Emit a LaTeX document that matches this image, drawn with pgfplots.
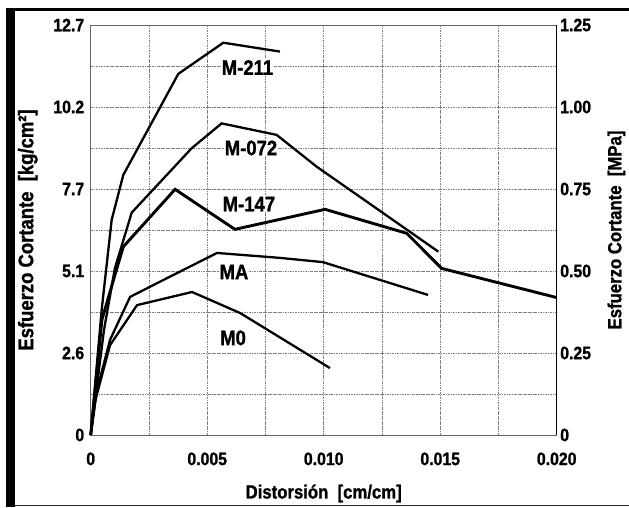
\documentclass[border=0pt]{standalone}
\usepackage{pgfplots}
\pgfplotsset{compat=1.18}
\usepackage{fontspec}
\setmainfont{Liberation Sans}[FakeStretch=0.88, BoldFeatures={FakeBold=1.2}]
\begin{document}
\begin{tikzpicture}
\path[use as bounding box] (0,0) rectangle (629pt,507pt);
\fill[black] (6pt,0) rectangle (15pt,498pt);
\draw[line width=2.5pt] (6pt,497.5pt) -- (629pt,497.5pt);
\draw[line width=1pt,black!85] (15pt,1.5pt) -- (629pt,1.5pt);
\begin{axis}[
  at={(90.7pt,72pt)}, anchor=south west, scale only axis,
  width=466pt, height=410pt,
  xmin=0, xmax=0.020, ymin=0, ymax=1.25,
  scaled x ticks=false, scaled y ticks=false,
  xtick={0,0.005,0.010,0.015,0.020},
  xticklabels={0,0.005,0.010,0.015,0.020},
  minor xtick={0.0025,0.0075,0.0125,0.0175},
  ytick={0,0.25,0.5,0.75,1,1.25},
  yticklabels={0,2.6,5.1,7.7,10.2,12.7},
  minor ytick={0.125,0.375,0.625,0.875,1.125},
  major tick length=0pt, minor tick length=0pt,
  grid=both,
  major grid style={black!50, line width=0.5pt, dash pattern=on 2.5pt off 1pt on 0.6pt off 1pt},
  minor grid style={black!50, line width=0.5pt, dash pattern=on 2.5pt off 1pt on 0.6pt off 1pt},
  axis line style={black!60, line width=0.7pt},
  /pgf/number format/assume math mode=true,
  tick label style={font=\bfseries\fontsize{18}{18}\selectfont},
  xticklabel style={yshift=-14pt},
  yticklabel style={xshift=-3pt},
  xlabel={Distorsión\ \ [cm/cm]},
  ylabel={Esfuerzo Cortante\ \ [kg/cm²]},
  label style={font=\bfseries\fontsize{19}{19}\selectfont},
  xlabel style={at={(axis description cs:0.5,0)}, anchor=north, yshift=-46pt},
  ylabel style={at={(axis description cs:-0.135,0.5)}, anchor=center, rotate=0, font=\bfseries\fontsize{21}{21}\selectfont},
  clip=false,
]
% M-211
\addplot[black, line width=2.3pt] coordinates {
(0,0) (0.00047,0.381) (0.0009,0.656) (0.0014,0.793) (0.00376,1.101) (0.00569,1.196) (0.00812,1.169)};
% M-072
\addplot[black, line width=2.3pt] coordinates {
(0,0) (0.00057,0.32) (0.00104,0.509) (0.00176,0.678) (0.00433,0.874) (0.00562,0.950) (0.00798,0.915) (0.0097,0.818) (0.01492,0.559)};
% M-147
\addplot[black, line width=2.9pt] coordinates {
(0,0) (0.00048,0.351) (0.00104,0.488) (0.0014,0.574) (0.00362,0.749) (0.00619,0.627) (0.01006,0.688) (0.01356,0.615) (0.01506,0.508) (0.020,0.419)};
% MA
\addplot[black, line width=2.3pt] coordinates {
(0,0) (0.00027,0.137) (0.00083,0.29) (0.00169,0.421) (0.00285,0.463) (0.00542,0.555) (0.00812,0.540) (0.00997,0.527) (0.01448,0.427)};
% M0
\addplot[black, line width=2.3pt] coordinates {
(0,0) (0.00018,0.101) (0.00083,0.274) (0.00199,0.396) (0.00435,0.436) (0.00641,0.372) (0.01027,0.204)};
\node[font=\bfseries\fontsize{21}{21}\selectfont, fill=white, inner sep=1pt] at (axis cs:0.00673,1.1205) {M-211};
\node[font=\bfseries\fontsize{21}{21}\selectfont, fill=white, inner sep=1pt] at (axis cs:0.00688,0.875) {M-072};
\node[font=\bfseries\fontsize{21}{21}\selectfont, fill=white, inner sep=1pt] at (axis cs:0.00679,0.704) {M-147};
\node[font=\bfseries\fontsize{21}{21}\selectfont, fill=white, inner sep=1pt] at (axis cs:0.00615,0.497) {MA};
\node[font=\bfseries\fontsize{21}{21}\selectfont, fill=white, inner sep=1pt] at (axis cs:0.00611,0.296) {M0};
\end{axis}
\begin{axis}[
  at={(90.7pt,72pt)}, anchor=south west, scale only axis,
  width=466pt, height=410pt,
  xmin=0, xmax=0.020, ymin=0, ymax=1.25,
  axis x line=none, axis y line*=right,
  ytick={0,0.25,0.5,0.75,1,1.25},
  yticklabels={0,0.25,0.50,0.75,1.00,1.25},
  major tick length=0pt,
  axis line style={black, line width=1.1pt, -},
  /pgf/number format/assume math mode=true,
  tick label style={font=\bfseries\fontsize{18}{18}\selectfont},
  ylabel={Esfuerzo Cortante\ \ [MPa]},
  label style={font=\bfseries\fontsize{19}{19}\selectfont},
  ylabel style={at={(axis description cs:1.128,0.5)}, anchor=center, rotate=0},
]
\addplot[draw=none] coordinates {(0,0)};
\end{axis}
\end{tikzpicture}
\end{document}
